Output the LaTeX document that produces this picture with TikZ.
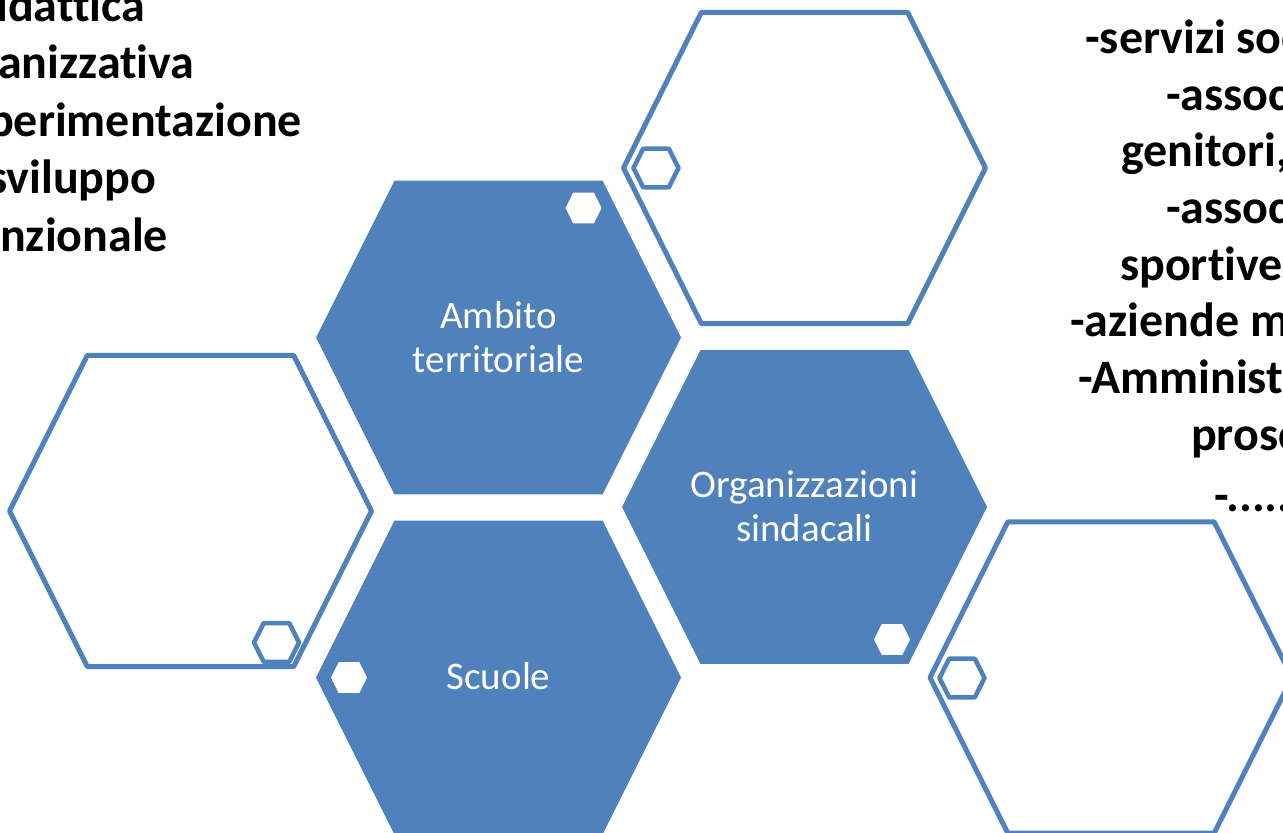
\documentclass[tikz,border=0pt]{standalone}
\usepackage{fontspec}
\setmainfont{Carlito}[Ligatures=CommonOff]
\definecolor{hexblue}{HTML}{4F81BD}
\newcommand\hexshape[4]{%
  \path[#1] ({#2-0.57*#4},{#3-0.86*#4}) -- ({#2+0.57*#4},{#3-0.86*#4})
    -- ({#2+#4},{#3}) -- ({#2+0.57*#4},{#3+0.86*#4})
    -- ({#2-0.57*#4},{#3+0.86*#4}) -- ({#2-#4},{#3}) -- cycle;}
\tikzset{
  fillhex/.style={fill=hexblue,draw=none},
  linehex/.style={draw=hexblue,line width=5pt,line join=round},
  minihex/.style={draw=hexblue,line width=4.5pt,fill=white,line join=round},
  whitehex/.style={fill=white,draw=none},
  hextext/.style={text=white,font=\fontsize{39}{44}\selectfont,align=center,inner sep=0pt},
  listtext/.style={font=\bfseries\fontsize{48}{57}\selectfont,anchor=base west,inner sep=0pt},
}
\begin{document}
\begin{tikzpicture}[x=1pt,y=-1pt]
\useasboundingbox (0,0) rectangle (1283,833);
\clip (0,0) rectangle (1283,833);
% outline hexagons
\hexshape{linehex}{804.5}{168}{181}
\hexshape{linehex}{190.5}{511}{181}
\hexshape{linehex}{1111}{677.5}{181}
\hexshape{minihex}{656}{168}{22.5}
\hexshape{minihex}{276.5}{642.5}{22.5}
\hexshape{minihex}{962}{678}{22.5}
% filled hexagons
\hexshape{fillhex}{498.5}{337.5}{182.5}
\hexshape{fillhex}{804.5}{507}{182.5}
\hexshape{fillhex}{498.5}{677.5}{182.5}
\hexshape{whitehex}{583.5}{208}{18}
\hexshape{whitehex}{892}{639.5}{18}
\hexshape{whitehex}{349}{677.5}{18}
% labels
\node[hextext] (amb) at (498.5,337) {Ambito\\territoriale};
\node[hextext] (org) at (804.5,506.5) {Organizzazioni\\sindacali};
\node[hextext,anchor=base] (scu) at (498.5,689.3) {Scuole};
% left list
\node[listtext] (l1) at (-4,21) {idattica};
\node[listtext] (l2) at (-2,78.5) {anizzativa};
\node[listtext] (l3) at (-12,136) {perimentazione};
\node[listtext] (l4) at (-12,193.5) {sviluppo};
\node[listtext] (l5) at (0,251) {nzionale};
% right list
\node[listtext] (r1) at (1085,53.3) {-servizi soc};
\node[listtext] (r2) at (1166,110) {-assoc};
\node[listtext] (r3) at (1121,166.7) {genitori,};
\node[listtext] (r4) at (1166,223.4) {-assoc};
\node[listtext] (r5) at (1120,280.1) {sportive};
\node[listtext] (r6) at (1070,336.8) {-aziende m};
\node[listtext] (r7) at (1078,393.5) {-Amminist};
\node[listtext] (r8) at (1191,450.2) {prosc};
\node[listtext] (r9) at (1214,511) {-......};
\end{tikzpicture}
\end{document}
